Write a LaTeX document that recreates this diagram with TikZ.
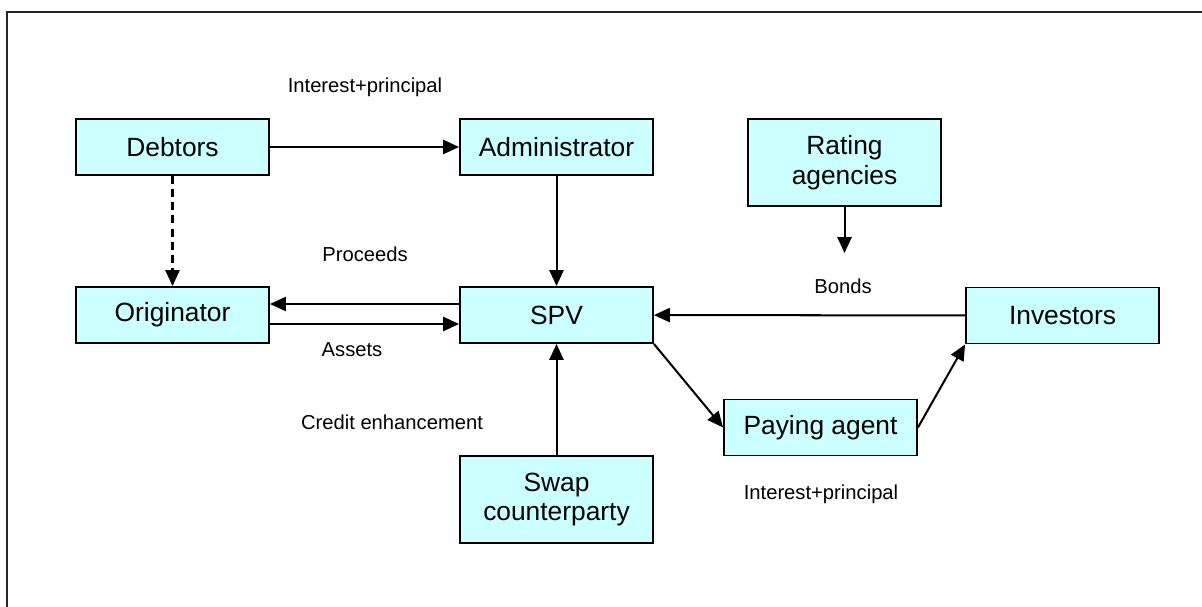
\documentclass[tikz,border=0pt]{standalone}
\usepackage{fontspec}
\setmainfont{Liberation Sans}
\usetikzlibrary{arrows.meta}

\definecolor{boxfill}{HTML}{CCFFFF}

\begin{document}
\begin{tikzpicture}[x=0.02cm,y=-0.02cm,>={Triangle[length=9pt,width=8pt]},->,
    entity/.style={draw,line width=1.1pt,fill=boxfill,minimum width=3.86cm,minimum height=1.12cm,
        align=center,font=\fontsize{15}{17}\selectfont,inner sep=0pt},
    tall/.style={minimum height=1.74cm},
    flow/.style={font=\fontsize{11.5}{13}\selectfont,inner sep=0pt}]
    \useasboundingbox (0,0) rectangle (1202,607);
    \draw[-,line width=1.4pt,black!85] (7,607) -- (7,12) -- (1202,12);

    \node[entity] (Debtors) at (172.5,147) {Debtors};
    \node[entity] (Admin) at (556.5,147) {Administrator};
    \node[entity,tall] (Rating) at (844.5,162.5) {Rating\\agencies};
    \node[entity] (Orig) at (172.5,315) {Originator};
    \node[entity] (SPV) at (556.5,315) {SPV};
    \node[entity] (Inv) at (1062.5,315.5) {Investors};
    \node[entity] (Pay) at (820.5,427.5) {Paying agent};
    \node[entity,tall] (Swap) at (556.5,499.5) {Swap\\counterparty};
    \coordinate (R_end) at (844.5,253);

    \node[flow] (L_ip1) at (365,87) {Interest+principal};
    \node[flow] (L_proc) at (365,254) {Proceeds};
    \node[flow] (L_ass) at (352,350) {Assets};
    \node[flow] (L_cred) at (392,422) {Credit enhancement};
    \node[flow] (L_bonds) at (843,286) {Bonds};
    \node[flow] (L_ip2) at (821,494) {Interest+principal};

    \begin{scope}[line width=1.15pt]
        \draw (Debtors) -- (Admin);
        \draw (Admin) -- (SPV);
        \draw[dash pattern=on 4.5pt off 3pt] (Debtors) -- (Orig);
        \draw ([yshift=0.22cm]SPV.west) -- ([yshift=0.22cm]Orig.east);
        \draw ([yshift=-0.18cm]Orig.east) -- ([yshift=-0.18cm]SPV.west);
        \draw (Rating) -- (R_end);
        \draw (Inv) -- (SPV);
        \draw (Swap) -- (SPV);
        \draw (SPV.south east) -- (Pay.west);
        \draw (Pay.east) -- (Inv.south west);
    \end{scope}
\end{tikzpicture}
\end{document}
